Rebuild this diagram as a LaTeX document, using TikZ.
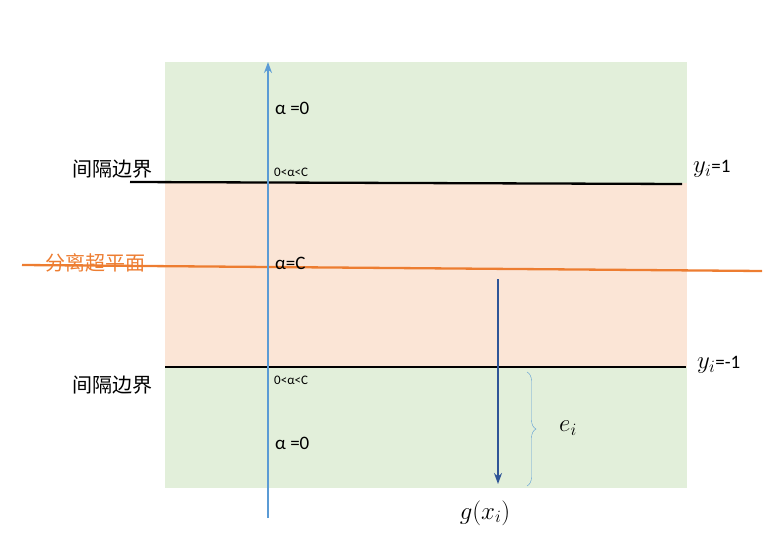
\documentclass[tikz,border=0pt]{standalone}
\usepackage{fontspec}
\setmainfont{Carlito}
\newfontfamily\cjk{Noto Sans CJK SC}
\usetikzlibrary{decorations.pathreplacing,arrows.meta}
\definecolor{gr}{HTML}{E2EFDA}
\definecolor{pk}{HTML}{FBE5D6}
\definecolor{orr}{HTML}{ED7D31}
\definecolor{bl}{HTML}{5B9BD5}
\definecolor{db}{HTML}{2F5597}
\begin{document}
\begin{tikzpicture}[x=1pt,y=-1pt,
  lab/.style={font=\fontsize{19}{21}\selectfont,inner sep=0pt},
  mth/.style={font=\fontsize{23}{25}\selectfont,inner sep=0pt},
  small/.style={font=\fontsize{13}{15}\selectfont,inner sep=0pt},
  zh/.style={font=\cjk\fontsize{20}{22}\selectfont,inner sep=0pt}]
\useasboundingbox (0,0) rectangle (770,548);
\fill[gr] (165,62) rectangle (687,488);
\fill[pk] (165,183) rectangle (687,367);
\coordinate (t1) at (130,182); \coordinate (t2) at (682,184);
\coordinate (b1) at (165,367); \coordinate (b2) at (686,367);
\coordinate (o1) at (22,265); \coordinate (o2) at (762,271);
\draw[line width=2.3pt] (t1) -- (t2);
\draw[line width=2.3pt] (b1) -- (b2);
\draw[orr,line width=2.3pt] (o1) -- (o2);
\coordinate (ab) at (268,518); \coordinate (at) at (268,62);
\draw[bl,line width=1.3pt,-{Stealth[length=11pt,width=8pt]}] (ab) -- (at);
\coordinate (gb) at (498,279); \coordinate (ge) at (498,484);
\draw[db,line width=1.6pt,-{Stealth[length=11pt,width=8pt]}] (gb) -- (ge);
\coordinate (r1) at (527,372); \coordinate (r2) at (527,486);
\draw[bl,decorate,decoration={brace,amplitude=9pt}] (r1) -- (r2);
\node[mth] (e) at (568,428) {$e_i$};
\node[mth] (g) at (485,513) {$g(x_i)$};
\node[lab,anchor=west] (a1) at (275,108) {α =0};
\node[small,anchor=west] (a2) at (274,172) {0<α<C};
\node[lab,anchor=west] (a3) at (275,263) {α=C};
\node[small,anchor=west] (a4) at (274,380) {0<α<C};
\node[lab,anchor=west] (a5) at (275,443) {α =0};
\node[zh] (z1) at (112,169) {间隔边界};
\node[zh] (z2) at (112,385) {间隔边界};
\node[zh,text=orr] (z3) at (95,263) {分离超平面};
\node[mth,anchor=west] (y1) at (693,169) {$y_i$\fontsize{19}{21}\selectfont=1};
\node[mth,anchor=west] (y2) at (697,365) {$y_i$\fontsize{19}{21}\selectfont=-1};
\end{tikzpicture}
\end{document}
